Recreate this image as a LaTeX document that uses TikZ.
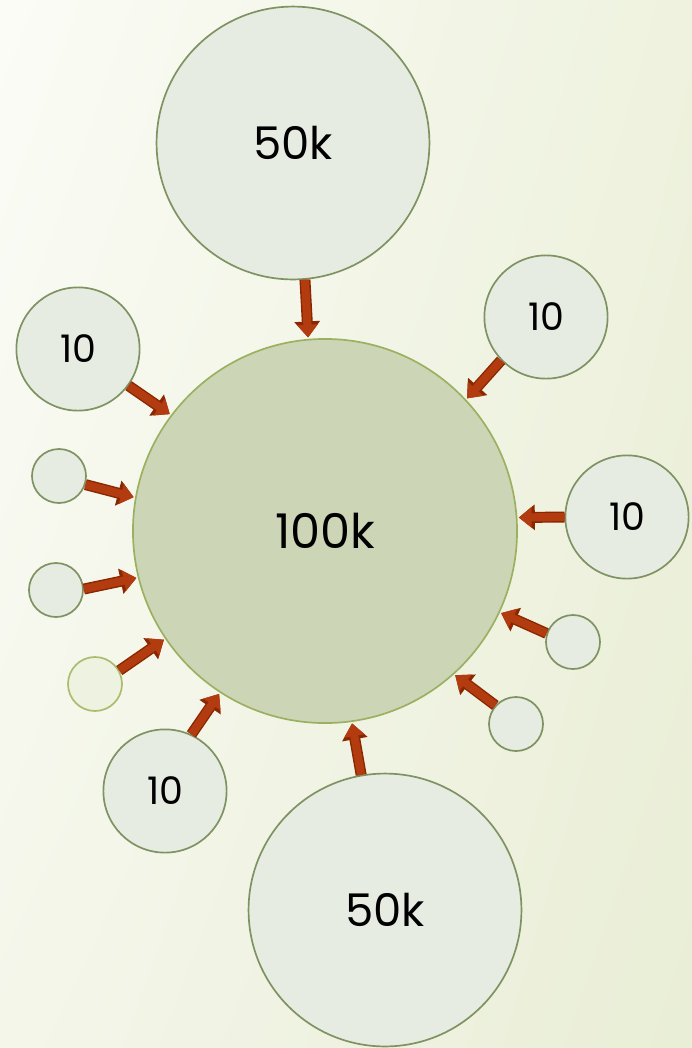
\documentclass[tikz,border=0pt]{standalone}
\usepackage{fontspec}
\setmainfont{Poppins}
\usepackage{tikz}
\usetikzlibrary{arrows.meta,shadings}
\definecolor{bigfill}{HTML}{CCD6B6}
\definecolor{bigedge}{HTML}{9BB060}
\definecolor{smallfill}{HTML}{E6ECE1}
\definecolor{smalledge}{HTML}{7F9262}
\definecolor{palefill}{HTML}{EEF2E0}
\definecolor{paleedge}{HTML}{A9BD6C}
\definecolor{arrowfill}{HTML}{B23C10}
\definecolor{arrowedge}{HTML}{8A2600}
\definecolor{bgul}{HTML}{FBFCF6}
\definecolor{bgur}{HTML}{EEF2DE}
\definecolor{bgll}{HTML}{F4F6EA}
\definecolor{bglr}{HTML}{E9EED6}
\tikzstyle{bigdot}=[circle,draw=bigedge,fill=bigfill,line width=1.2pt,
                    inner sep=0pt,minimum size=9.6cm,font=\fontsize{34}{34}\selectfont]
\tikzstyle{halfdot}=[circle,draw=smalledge,fill=smallfill,line width=1.2pt,
                     inner sep=0pt,minimum size=6.82cm,font=\fontsize{32}{32}\selectfont]
\tikzstyle{tendot}=[circle,draw=smalledge,fill=smallfill,line width=1.2pt,
                    inner sep=0pt,minimum size=3.08cm,font=\fontsize{27}{27}\selectfont]
\tikzstyle{tinydot}=[circle,draw=smalledge,fill=smallfill,line width=1.2pt,
                     inner sep=0pt,minimum size=1.35cm]
\tikzstyle{palefdot}=[circle,draw=paleedge,fill=palefill,line width=1.2pt,
                      inner sep=0pt,minimum size=1.35cm]
\tikzstyle{feed}=[arrowfill,line width=5.8pt,
                  -{Triangle[length=0.32cm,width=0.5cm]},shorten >=1pt,
                  preaction={draw=arrowedge,line width=7.8pt,
                  -{Triangle[length=0.4cm,width=0.62cm]},shorten >=1pt}]

\begin{document}
\begin{tikzpicture}[x=0.025cm,y=-0.025cm]
    \shade[upper left=bgul,upper right=bgur,lower left=bgll,lower right=bglr]
          (0,0) rectangle (692,1048);
    \useasboundingbox (0,0) rectangle (692,1048);
    \node (big)  at (325,531) [bigdot]{100k};
    \node (top)  at (293,143) [halfdot]{50k};
    \node (bot)  at (385,910) [halfdot]{50k};
    \node (tr)   at (546,317) [tendot]{10};
    \node (lt)   at (78,349)  [tendot]{10};
    \node (rt)   at (627,517) [tendot]{10};
    \node (bl)   at (165,791) [tendot]{10};
    \node (s1)   at (59,476)  [tinydot]{};
    \node (s2)   at (56,590)  [tinydot]{};
    \node (s3)   at (95,684)  [palefdot]{};
    \node (s4)   at (573,642) [tinydot]{};
    \node (s5)   at (516,724) [tinydot]{};
    \draw[feed] (top.-85) -- (big.95);
    \draw[feed] (tr.224)  -- (big.43);
    \draw[feed] (lt.-36)  -- (big.143);
    \draw[feed] (s1.-18)  -- (big.170);
    \draw[feed] (s2.2)    -- (big.194);
    \draw[feed] (s3.29)   -- (big.214);
    \draw[feed] (bl.65)   -- (big.237);
    \draw[feed] (bot.100) -- (big.-82);
    \draw[feed] (rt.180)  -- (big.4);
    \draw[feed] (s4.162)  -- (big.-25);
    \draw[feed] (s5.138)  -- (big.-48);
  \end{tikzpicture}
\end{document}
